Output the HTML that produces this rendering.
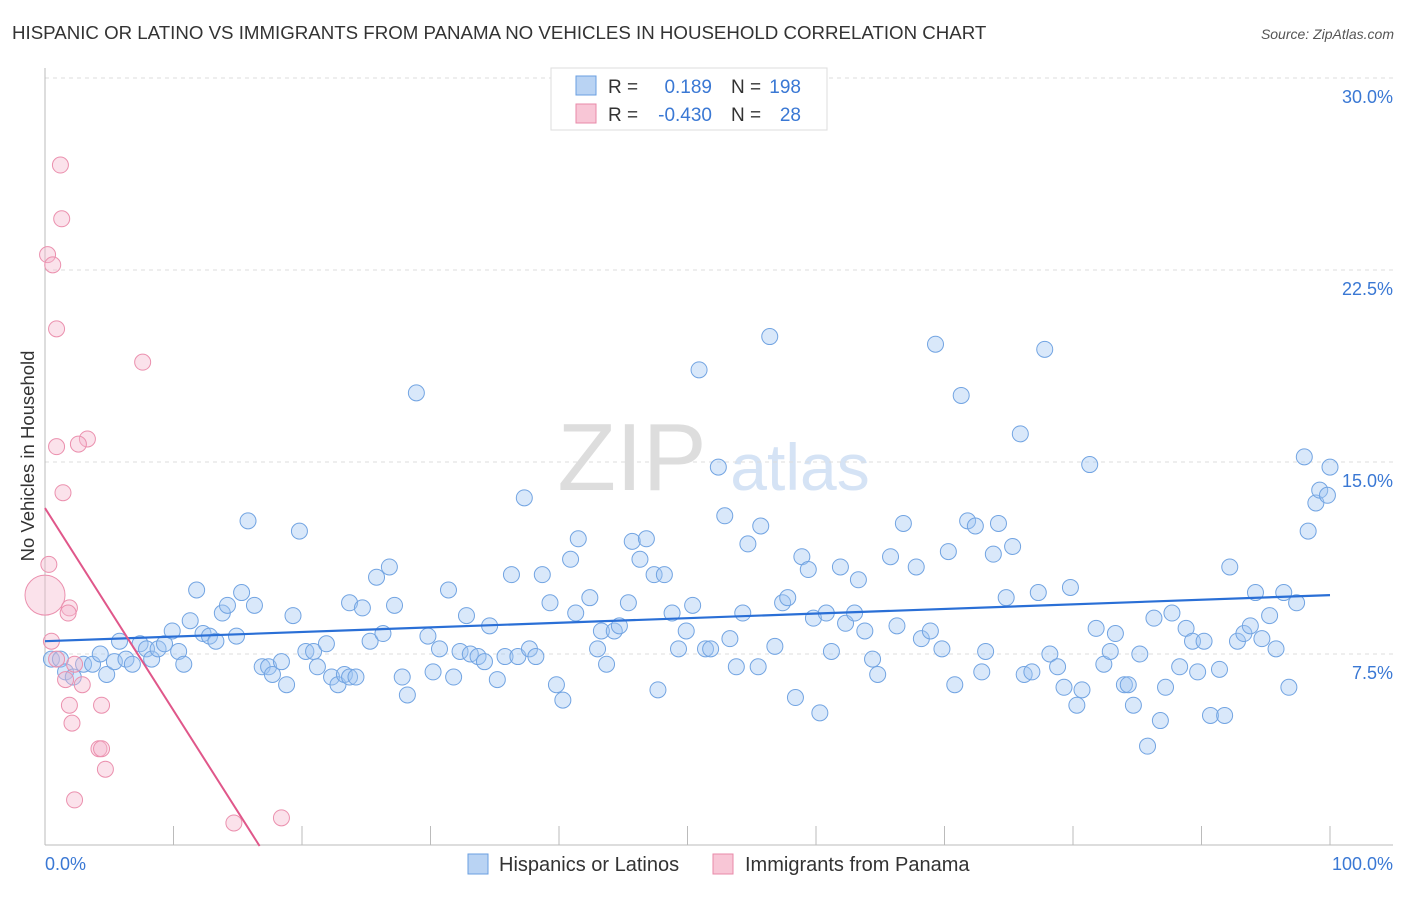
<!DOCTYPE html>
<html><head><meta charset="utf-8"><style>
body{margin:0;background:#fff;font-family:"Liberation Sans",sans-serif}
svg text{font-family:"Liberation Sans",sans-serif}
</style></head><body>
<svg id="chart" width="1406" height="892">
<text x="12" y="39" font-size="18.7" fill="#333">HISPANIC OR LATINO VS IMMIGRANTS FROM PANAMA NO VEHICLES IN HOUSEHOLD CORRELATION CHART</text>
<text x="1394" y="39" font-size="14" fill="#555" font-style="italic" text-anchor="end">Source: ZipAtlas.com</text>
<g><text x="632" y="490" font-family="Liberation Serif" font-size="96" fill="#ddd" text-anchor="middle">ZIP</text><text x="800" y="490" font-size="66" fill="#d5e3f5" text-anchor="middle">atlas</text></g>
<g id="grid"></g><g id="axes"></g><g id="pts"></g><g id="lines"></g>
<text transform="translate(34,456) rotate(-90)" font-size="18.5" fill="#333" text-anchor="middle">No Vehicles in Household</text>
<g>
<rect x="551" y="68" width="276" height="62" fill="#fff" stroke="#ddd"/>
<rect x="576" y="76" width="20" height="19" fill="#b9d3f3" stroke="#6a9fe0"/>
<rect x="576" y="104" width="20" height="19" fill="#f8c6d6" stroke="#e88aa8"/>
<text x="608" y="93" font-size="19" fill="#333">R =</text><text x="712" y="93" font-size="19" fill="#3a78d4" text-anchor="end">0.189</text>
<text x="731" y="93" font-size="19" fill="#333">N =</text><text x="801" y="93" font-size="19" fill="#3a78d4" text-anchor="end">198</text>
<text x="608" y="121" font-size="19" fill="#333">R =</text><text x="712" y="121" font-size="19" fill="#3a78d4" text-anchor="end">-0.430</text>
<text x="731" y="121" font-size="19" fill="#333">N =</text><text x="801" y="121" font-size="19" fill="#3a78d4" text-anchor="end">28</text>
</g>
<g>
<rect x="468" y="854" width="20" height="20" fill="#b9d3f3" stroke="#6a9fe0"/>
<text x="499" y="871" font-size="20" fill="#333">Hispanics or Latinos</text>
<rect x="713" y="854" width="20" height="20" fill="#f8c6d6" stroke="#e88aa8"/>
<text x="745" y="871" font-size="20" fill="#333">Immigrants from Panama</text>
</g>
</svg>
<script>
const yTicks=[7.5,15,22.5,30];
const yTickLabels=["7.5%","15.0%","22.5%","30.0%"];
const xTicks=[0,10,20,30,40,50,60,70,80,90,100];
const blueX=[0.5,1.2,1.6,2.2,3.0,3.7,4.3,4.8,5.4,5.8,6.3,6.8,7.4,7.9,8.3,8.8,9.3,9.9,10.4,10.8,11.3,11.8,12.3,12.8,13.3,13.8,14.2,14.9,15.3,15.8,16.3,16.9,17.4,17.7,18.4,18.8,19.3,19.8,20.3,20.9,21.2,21.9,22.3,22.8,23.3,23.7,24.2,23.7,24.7,25.3,25.8,26.3,26.8,27.2,27.8,28.2,28.9,29.8,30.2,30.7,31.4,31.8,32.3,32.8,33.1,33.7,34.2,34.6,35.2,35.8,36.3,36.8,37.3,37.7,38.2,38.7,39.3,39.8,40.3,40.9,41.5,41.3,42.4,43.0,43.3,43.7,44.3,44.7,45.4,45.7,46.3,46.8,47.4,47.7,48.2,48.8,49.3,49.9,50.4,50.9,51.4,51.8,52.4,52.9,53.3,53.8,54.3,54.7,55.5,55.7,56.4,56.8,57.4,57.8,58.4,58.9,59.4,59.8,60.3,60.8,61.2,61.9,62.3,63.0,63.3,63.8,64.4,64.8,65.8,66.3,66.8,67.8,68.2,68.9,69.3,69.8,70.3,70.8,71.3,71.8,72.4,72.9,73.2,73.8,74.2,74.8,75.3,75.9,76.2,76.8,77.3,77.8,78.2,78.8,79.3,79.8,80.3,80.7,81.3,81.8,82.4,82.9,83.3,84.0,84.3,84.7,85.2,85.8,86.3,86.8,87.2,87.7,88.3,88.8,89.3,89.7,90.2,90.7,91.4,91.8,92.2,92.8,93.3,93.8,94.2,94.7,95.3,95.8,96.4,96.8,97.4,98.0,98.3,98.9,99.2,99.8,100.0];
const blueY=[7.3,7.3,6.8,6.6,7.1,7.1,7.5,6.7,7.2,8.0,7.3,7.1,7.9,7.7,7.3,7.7,7.9,8.4,7.6,7.1,8.8,10.0,8.3,8.2,8.0,9.1,9.4,8.2,9.9,12.7,9.4,7.0,7.0,6.7,7.2,6.3,9.0,12.3,7.6,7.6,7.0,7.9,6.6,6.3,6.7,6.6,6.6,9.5,9.3,8.0,10.5,8.3,10.9,9.4,6.6,5.9,17.7,8.2,6.8,7.7,10.0,6.6,7.6,9.0,7.5,7.4,7.2,8.6,6.5,7.4,10.6,7.4,13.6,7.7,7.4,10.6,9.5,6.3,5.7,11.2,12.0,9.1,9.7,7.7,8.4,7.1,8.4,8.6,9.5,11.9,11.2,12.0,10.6,6.1,10.6,9.1,7.7,8.4,9.4,18.6,7.7,7.7,14.8,12.9,8.1,7.0,9.1,11.8,7.0,12.5,19.9,7.8,9.5,9.7,5.8,11.3,10.8,8.9,5.2,9.1,7.6,10.9,8.7,9.1,10.4,8.4,7.3,6.7,11.3,8.6,12.6,10.9,8.1,8.4,19.6,7.7,11.5,6.3,17.6,12.7,12.5,6.8,7.6,11.4,12.6,9.7,11.7,16.1,6.7,6.8,9.9,19.4,7.5,7.0,6.2,10.1,5.5,6.1,14.9,8.5,7.1,7.6,8.3,6.3,6.3,5.5,7.5,3.9,8.9,4.9,6.2,9.1,7.0,8.5,8.0,6.8,8.0,5.1,6.9,5.1,10.9,8.0,8.3,8.6,9.9,8.1,9.0,7.7,9.9,6.2,9.5,15.2,12.3,13.4,13.9,13.7,14.8];
const pinkX=[1.2,1.3,0.2,0.6,0.9,7.6,3.3,0.9,2.6,1.4,0.3,0,0.5,0.9,2.3,1.6,2.9,1.9,1.8,1.9,2.1,4.4,4.2,4.4,4.7,2.3,14.7,18.4];
const pinkY=[26.6,24.5,23.1,22.7,20.2,18.9,15.9,15.6,15.7,13.8,11.0,9.8,8.0,7.3,7.1,6.5,6.3,9.3,9.1,5.5,4.8,5.5,3.8,3.8,3.0,1.8,0.9,1.1];
const blueTrend=[8.0,9.8];
const pinkTrend=[13.2,-0.6];
const NS="http://www.w3.org/2000/svg";
const X=v=>45+v*12.85, Y=v=>846-v*25.6;
function mk(t,a,p){const e=document.createElementNS(NS,t);for(const k in a)e.setAttribute(k,a[k]);p.appendChild(e);return e;}
const grid=document.getElementById('grid'),axes=document.getElementById('axes');
yTicks.forEach((t,i)=>{
 const l=mk('line',{x1:45,x2:1393,y1:Y(t),y2:Y(t),stroke:'#ddd','stroke-dasharray':'4,4'},grid);
 
 
 const tx=mk('text',{x:1393,y:Y(t)+25,'font-size':18,fill:'#3a78d4','text-anchor':'end'},axes);
 tx.textContent=yTickLabels[i];
 
 
});
const ax=mk('line',{x1:45,x2:45,y1:68,y2:845,stroke:'#bbb'},axes);


const bx=mk('line',{x1:45,x2:1393,y1:845,y2:845,stroke:'#bbb'},axes);


xTicks.forEach(t=>{
 const l=mk('line',{x1:X(t),x2:X(t),y1:826,y2:845,stroke:'#bbb'},axes);
 
 
});
const xl0=mk('text',{x:45,y:870,'font-size':18,fill:'#3a78d4'},axes);xl0.textContent='0.0%';


const xl1=mk('text',{x:1393,y:870,'font-size':18,fill:'#3a78d4','text-anchor':'end'},axes);xl1.textContent='100.0%';


const pts=document.getElementById('pts');
blueX.forEach((v,i)=>{
 const c=mk('circle',{cx:X(v),cy:Y(blueY[i]),r:8,fill:'rgba(160,198,242,0.4)',stroke:'#72a4e2','stroke-width':1},pts);
 
 
});
pinkX.forEach((v,i)=>{
 const c=mk('circle',{cx:X(v),cy:Y(pinkY[i]),r:i==11?20:8,fill:'rgba(246,182,206,0.4)',stroke:'#eb90ae','stroke-width':1},pts);
 
 
});
const lines=document.getElementById('lines');
const bl=mk('line',{x1:X(0),y1:Y(blueTrend[0]),x2:X(100),y2:Y(blueTrend[1]),stroke:'#2a6fd6','stroke-width':2.2},lines);


const pl=mk('line',{x1:X(0),y1:Y(pinkTrend[0]),x2:X(16.7),y2:Y(0),stroke:'#e0578a','stroke-width':2},lines);


</script>
</body></html>
